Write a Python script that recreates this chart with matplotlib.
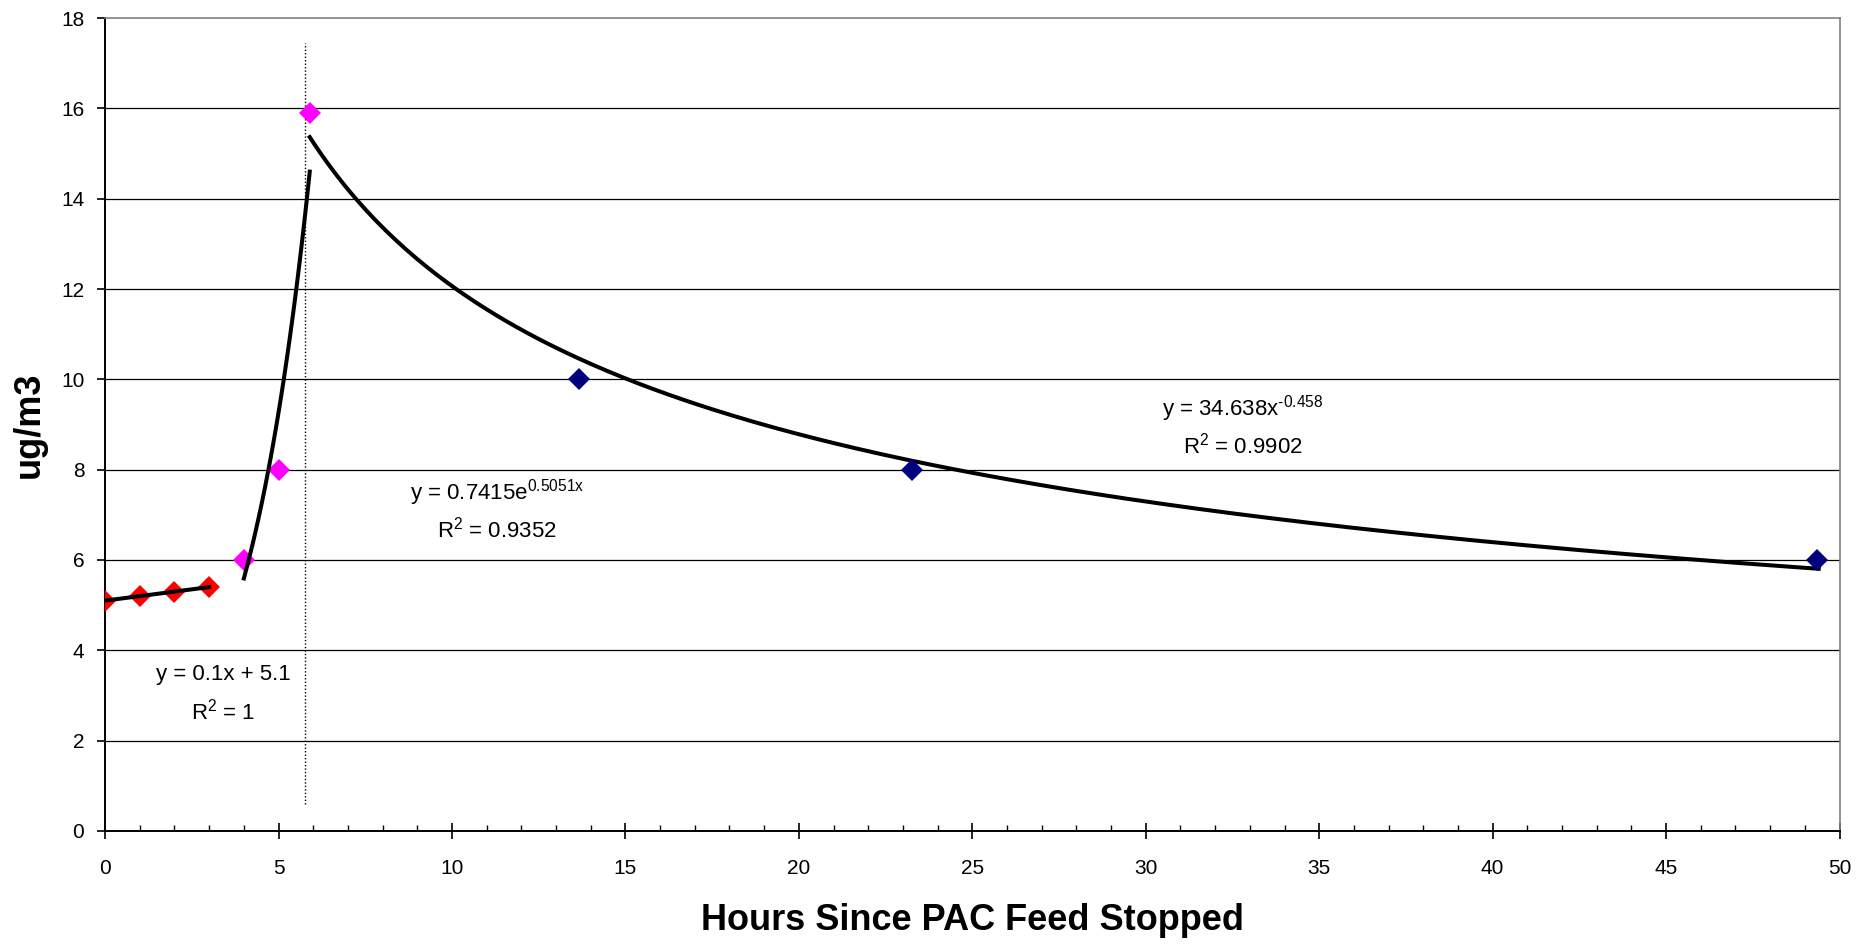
import numpy as np
import matplotlib.pyplot as plt

plt.rcParams['font.family'] = ['Liberation Sans', 'DejaVu Sans']
plt.rcParams['mathtext.fontset'] = 'custom'
plt.rcParams['mathtext.rm'] = 'Liberation Sans'
plt.rcParams['mathtext.it'] = 'Liberation Sans'

# Measured concentrations, split by phase
pre_hours = [0, 1, 2, 3]
pre_conc = [5.1, 5.2, 5.3, 5.4]
rise_hours = [4, 5, 5.9]
rise_conc = [6, 8, 15.9]
decay_hours = [13.65, 23.25, 49.35]
decay_conc = [10, 8, 6]

# Trendline coefficients and ranges
lin_slope, lin_icpt, lin_r2 = 0.1, 5.1, 1
exp_a, exp_b, exp_r2 = 0.7415, 0.5051, 0.9352
pow_a, pow_b, pow_r2 = 34.638, -0.458, 0.9902
lin_range = (0, 3)
exp_range = (4, 5.9)
pow_range = (5.9, 49.4)

# Feed-stop marker line
stop_x = 5.76
stop_span = (0.6, 17.45)

fig = plt.figure(figsize=(18.6, 9.5), dpi=100)
ax = fig.add_axes([0.0565, 0.1253, 0.9325, 0.8557])

ax.set_xlim(0, 50)
ax.set_ylim(0, 18)
ax.set_xticks(np.arange(0, 51, 5))
ax.set_xticks(np.arange(0, 51, 1), minor=True)
ax.set_yticks(np.arange(0, 19, 2))

for y in range(2, 18, 2):
    ax.axhline(y, color='black', lw=0.9, zorder=1)

ax.vlines(stop_x, *stop_span, colors='black', linestyles=(0, (1, 1.5)), lw=1, zorder=2)

# trendlines
xl = np.linspace(*lin_range, 50)
ax.plot(xl, lin_slope * xl + lin_icpt, color='black', lw=2.9, zorder=4)
xe = np.linspace(*exp_range, 100)
ax.plot(xe, exp_a * np.exp(exp_b * xe), color='black', lw=2.9, zorder=4)
xp = np.linspace(*pow_range, 300)
ax.plot(xp, pow_a * xp ** pow_b, color='black', lw=2.9, zorder=4)

# data points
ax.plot(pre_hours, pre_conc, 'D', color='#ff0000', ms=11, mew=0, zorder=3)
ax.plot(rise_hours, rise_conc, 'D', color='#ff00ff', ms=11, mew=0, zorder=3)
ax.plot(decay_hours, decay_conc, 'D', color='#000080', ms=11, mew=0, zorder=5)

fs = 16
pow_exp = str(pow_b).replace('-', '\u2010')
ax.text(3.4, 3.46, f'y = {lin_slope}x + {lin_icpt}', ha='center', va='center', fontsize=fs)
ax.text(3.4, 2.64, f'R$^2$ = {lin_r2}', ha='center', va='center', fontsize=fs)
ax.text(11.3, 7.5, f'y = {exp_a}e$^{{{exp_b}\\mathrm{{x}}}}$', ha='center', va='center', fontsize=fs)
ax.text(11.3, 6.67, f'R$^2$ = {exp_r2}', ha='center', va='center', fontsize=fs)
ax.text(32.8, 9.36, f'y = {pow_a}x$^{{{pow_exp}}}$', ha='center', va='center', fontsize=fs)
ax.text(32.8, 8.54, f'R$^2$ = {pow_r2}', ha='center', va='center', fontsize=fs)

for side in ['top', 'right']:
    ax.spines[side].set_color('#808080')
    ax.spines[side].set_linewidth(1.2)
for side in ['left', 'bottom']:
    ax.spines[side].set_color('black')
    ax.spines[side].set_linewidth(1.4)

ax.tick_params(axis='x', which='major', direction='inout', length=12, width=1.2,
               pad=14, labelsize=15)
ax.tick_params(axis='x', which='minor', direction='in', length=4.5, width=1)
ax.tick_params(axis='y', which='major', direction='out', length=6, width=1.2,
               pad=9, labelsize=15)

ax.set_xlabel('Hours Since PAC Feed Stopped', fontsize=26, fontweight='bold', labelpad=18)
ax.set_ylabel('ug/m3', fontsize=26, fontweight='bold', labelpad=10)

fig.savefig('out.png', dpi=100)
